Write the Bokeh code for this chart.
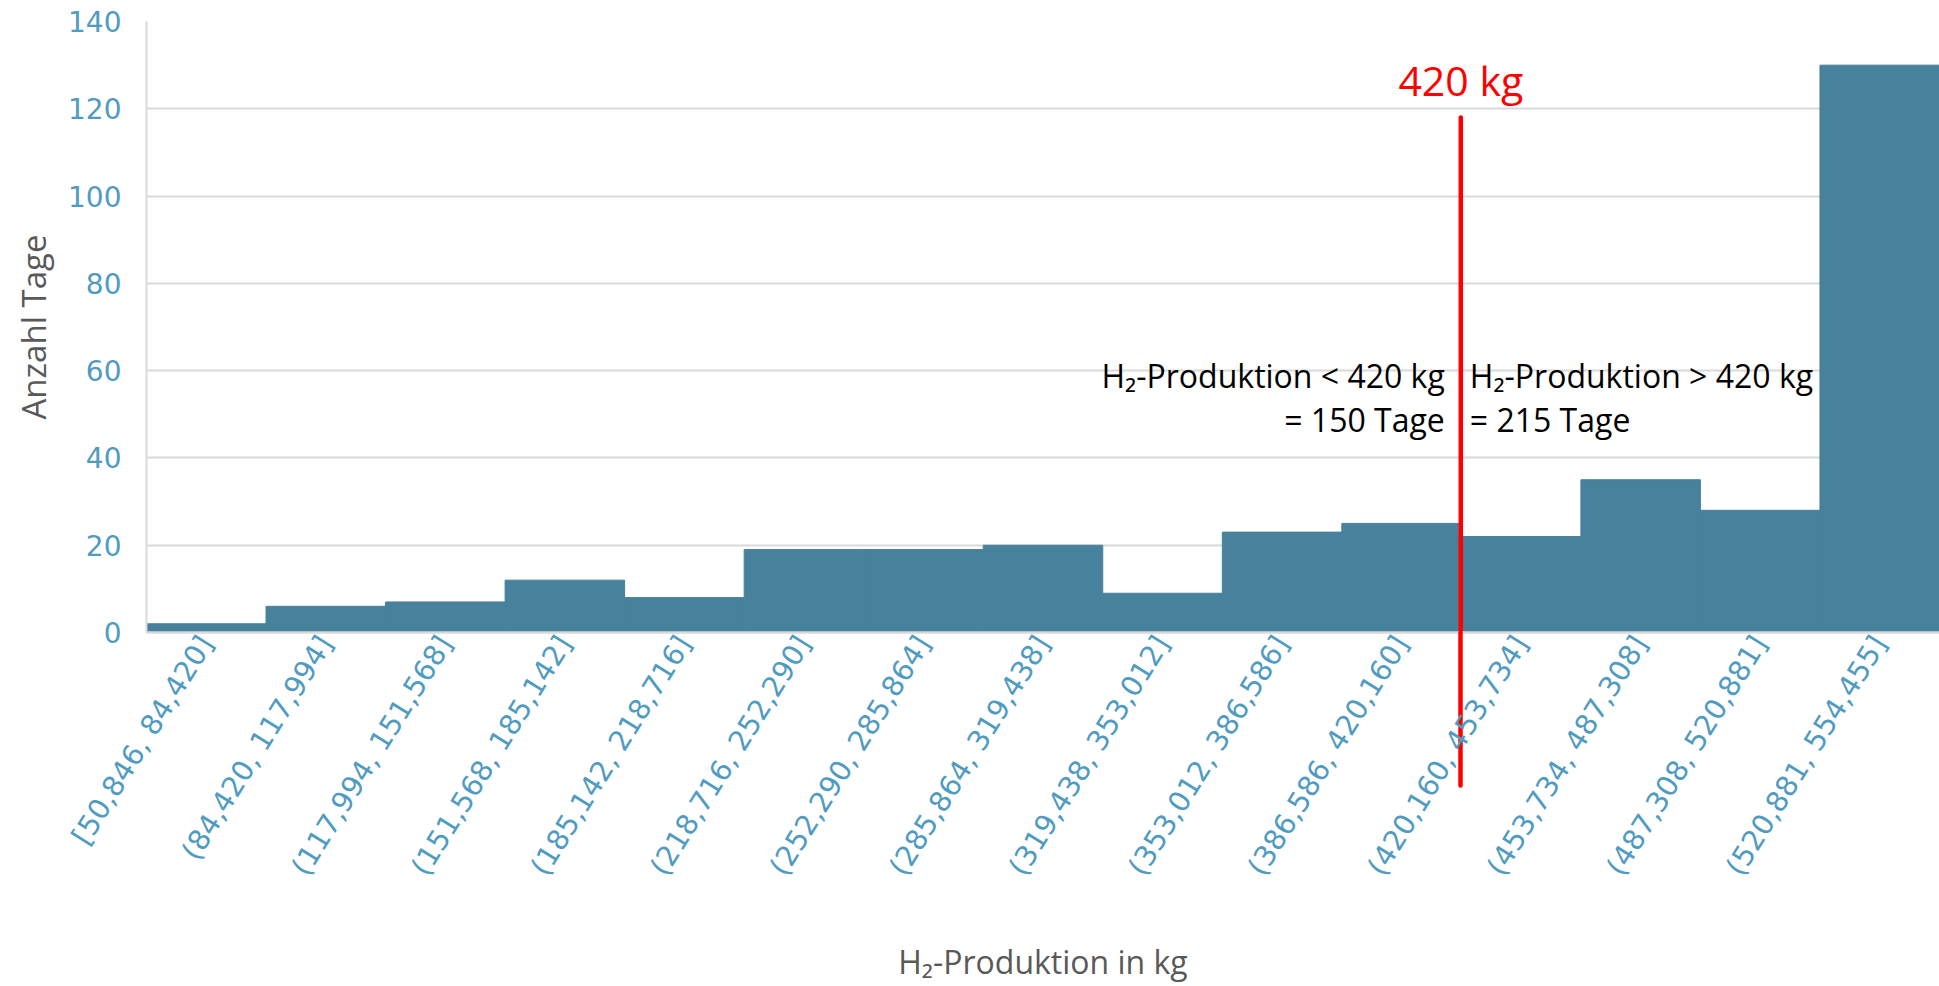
import math

from bokeh.plotting import figure
from bokeh.models import Range1d, FixedTicker, Label
from bokeh.embed import file_html
from bokeh.resources import INLINE

# Histogram of daily hydrogen production (kg per day) over one year
bin_labels = [
    "[50,846, 84,420]", "(84,420, 117,994]", "(117,994, 151,568]",
    "(151,568, 185,142]", "(185,142, 218,716]", "(218,716, 252,290]",
    "(252,290, 285,864]", "(285,864, 319,438]", "(319,438, 353,012]",
    "(353,012, 386,586]", "(386,586, 420,160]", "(420,160, 453,734]",
    "(453,734, 487,308]", "(487,308, 520,881]", "(520,881, 554,455]",
]
bin_edges_kg = [50.846, 84.420, 117.994, 151.568, 185.142, 218.716, 252.290,
                285.864, 319.438, 353.012, 386.586, 420.160, 453.734,
                487.308, 520.881, 554.455]
days = [2, 6, 7, 12, 8, 19, 19, 20, 9, 23, 25, 22, 35, 28, 130]
y_ticks = [0, 20, 40, 60, 80, 100, 120, 140]
threshold_kg = 420

BAR = "#48819b"
TICK_BLUE = "#4f9bc1"
GREY_TEXT = "#595959"
GRID = "#d9d9d9"
RED = "#ff0000"
TITLE_FONT = "Open Sans"
TICK_FONT = "DejaVu Sans"

n = len(days)
lefts = list(range(n))
rights = [i + 1 for i in range(n)]
centers = [i + 0.5 for i in range(n)]

# threshold position on the bin-index axis (linear within its bin)
k = max(i for i in range(n) if bin_edges_kg[i] <= threshold_kg)
thr_x = k + (threshold_kg - bin_edges_kg[k]) / (bin_edges_kg[k + 1] - bin_edges_kg[k])
days_below = sum(d for i, d in enumerate(days) if bin_edges_kg[i + 1] <= threshold_kg + 1)
days_above = sum(days) - days_below

p = figure(width=1939, height=986,
           x_range=Range1d(0, n), y_range=Range1d(0, 140),
           output_backend="svg", toolbar_location=None,
           min_border_left=146, min_border_right=0,
           min_border_top=21, min_border_bottom=354)
p.outline_line_color = None
p.background_fill_color = "white"
p.border_fill_color = "white"

p.quad(left=lefts, right=rights, bottom=0, top=days,
       fill_color=BAR, line_color=BAR, line_width=1)

# grid
p.xgrid.visible = False
p.ygrid.ticker = FixedTicker(ticks=y_ticks)
p.ygrid.grid_line_color = GRID
p.ygrid.grid_line_width = 2

# x axis with bin interval labels; its single minor tick continues the
# threshold marker down through the label area
tick_drop = 153
xa = p.xaxis[0]
xa.ticker = FixedTicker(ticks=centers, minor_ticks=[thr_x])
xa.major_label_overrides = {c: lab for c, lab in zip(centers, bin_labels)}
xa.major_label_orientation = math.radians(58)
xa.major_label_text_font = TICK_FONT
xa.major_label_text_font_size = "28.5px"
xa.major_label_text_color = TICK_BLUE
xa.major_label_standoff = 6 - tick_drop
xa.major_tick_line_color = None
xa.major_tick_out = 6
xa.minor_tick_line_color = RED
xa.minor_tick_line_width = 4.5
xa.minor_tick_line_cap = "round"
xa.minor_tick_in = 0
xa.minor_tick_out = tick_drop
xa.axis_line_color = GRID
xa.axis_line_width = 2.5
xa.axis_label = "H₂-Produktion in kg"
xa.axis_label_text_font = TITLE_FONT
xa.axis_label_text_font_style = "normal"
xa.axis_label_text_font_size = "32px"
xa.axis_label_text_color = GREY_TEXT
xa.axis_label_standoff = 47

# y axis
ya = p.yaxis[0]
ya.ticker = FixedTicker(ticks=y_ticks)
ya.major_label_text_font = TICK_FONT
ya.major_label_text_font_size = "28px"
ya.major_label_text_color = TICK_BLUE
ya.major_label_standoff = 19
ya.major_tick_line_color = None
ya.minor_tick_line_color = None
ya.axis_line_color = GRID
ya.axis_line_width = 2
ya.axis_label = "Anzahl Tage"
ya.axis_label_text_font = TITLE_FONT
ya.axis_label_text_font_style = "normal"
ya.axis_label_text_font_size = "33px"
ya.axis_label_text_color = GREY_TEXT
ya.axis_label_standoff = 9

# threshold marker inside the plot area
p.segment(x0=[thr_x], y0=[118], x1=[thr_x], y1=[0],
          line_color=RED, line_width=4.5, line_cap="round")

p.add_layout(Label(x=thr_x, y=126.6, text=f"{threshold_kg} kg",
                   text_align="center", text_baseline="alphabetic",
                   text_font=TITLE_FONT, text_font_size="41px", text_color=RED))

left_lines = [f"H₂-Produktion < {threshold_kg} kg", f"= {days_below} Tage"]
right_lines = [f"H₂-Produktion > {threshold_kg} kg", f"= {days_above} Tage"]
for yv, lt, rt in zip([58.9, 48.9], left_lines, right_lines):
    p.add_layout(Label(x=thr_x, y=yv, x_offset=-16, text=lt,
                       text_align="right", text_baseline="alphabetic",
                       text_font=TITLE_FONT, text_font_size="32px", text_color="black"))
    p.add_layout(Label(x=thr_x, y=yv, x_offset=9, text=rt,
                       text_align="left", text_baseline="alphabetic",
                       text_font=TITLE_FONT, text_font_size="32px", text_color="black"))

open("out.html", "w").write(file_html(p, INLINE))
